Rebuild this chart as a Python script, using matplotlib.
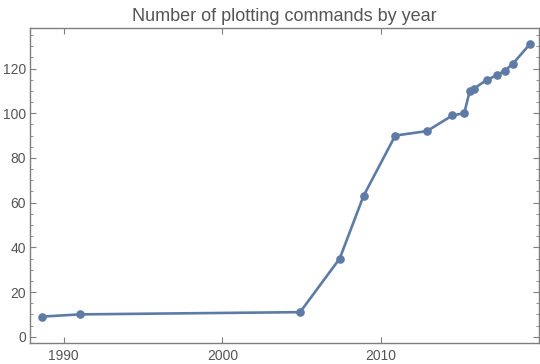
import matplotlib.pyplot as plt
from matplotlib.ticker import MultipleLocator

plt.rcParams['font.family'] = ['Liberation Sans', 'DejaVu Sans']

# release year vs number of plotting commands
years = [1988.6, 1991.0, 2004.9, 2007.4, 2008.9, 2010.9, 2012.9, 2014.5,
         2015.25, 2015.6, 2015.85, 2016.7, 2017.3, 2017.8, 2018.3, 2019.4]
counts = [9, 10, 11, 35, 63, 90, 92, 99, 100, 110, 111, 115, 117, 119, 122, 131]

line_color = '#5e7ba6'
frame_color = '#7f7f7f'
text_color = '#555555'

fig = plt.figure(figsize=(5.4, 3.64), dpi=100)
ax = fig.add_axes([0.0556, 0.0577, 0.9424, 0.8646])

ax.plot(years, counts, color=line_color, lw=1.9, marker='o', ms=5.2,
        mec=line_color, mfc=line_color)

ax.set_xlim(1987.87, 2019.96)
ax.set_ylim(-2.8, 138.0)
ax.xaxis.set_major_locator(MultipleLocator(10))
ax.yaxis.set_major_locator(MultipleLocator(20))
ax.yaxis.set_minor_locator(MultipleLocator(5))

for s in ax.spines.values():
    s.set_color(frame_color)
    s.set_linewidth(1.0)
ax.tick_params(which='both', direction='in', top=True, right=True,
               color=frame_color, labelcolor=text_color, labelsize=10)
ax.tick_params(which='major', length=4.5, width=0.8)
ax.tick_params(which='minor', length=2.5, width=0.6)
ax.tick_params(axis='y', pad=3)
ax.tick_params(axis='x', pad=4)

ax.set_title('Number of plotting commands by year', color=text_color,
             fontsize=13, pad=5)

fig.savefig('out.png', dpi=100)
